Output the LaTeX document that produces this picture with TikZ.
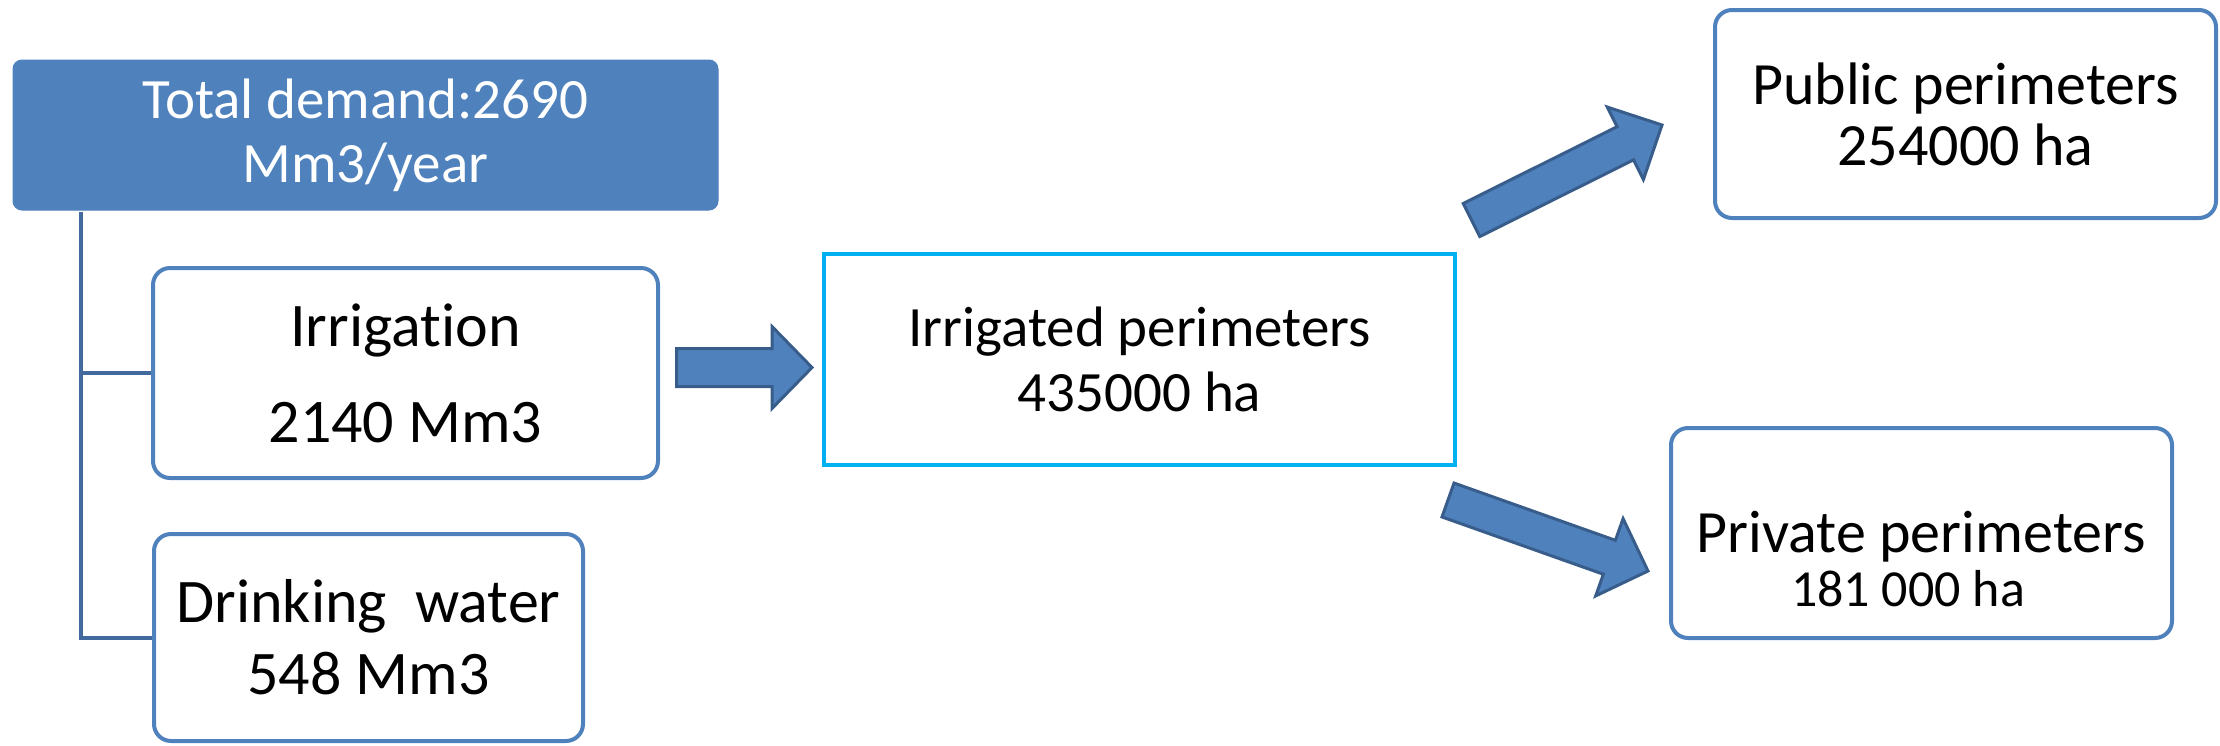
\documentclass[tikz,border=0pt]{standalone}
\usepackage{fontspec}
\setmainfont{Carlito}[Ligatures={NoCommon,NoContextual,NoRequired}]
\usetikzlibrary{calc}
\definecolor{accent}{HTML}{4F81BD}
\definecolor{arrowline}{HTML}{385D8A}
\definecolor{cyanline}{HTML}{00B0F0}
\definecolor{trunkline}{HTML}{41699D}
\tikzset{
  box/.style={draw=accent, line width=4pt, rounded corners=17pt, fill=white, align=center, inner sep=0pt},
  topbox/.style={draw=accent, fill=accent, line width=1pt, rounded corners=9pt, text=white, align=center, inner sep=0pt},
  cyanbox/.style={draw=cyanline, line width=4pt, fill=white, align=center, inner sep=0pt},
  blockarrow/.style={draw=arrowline, fill=accent, line width=3pt, line join=miter},
  trunk/.style={draw=trunkline, line width=4pt},
}
\newcommand\blockarr[5]{%
  \coordinate (hb) at ($(#2)!#5!(#1)$);
  \draw[blockarrow] ($(#1)!#3!90:(#2)$) -- ($(hb)!#3!90:(#2)$) -- ($(hb)!#4!90:(#2)$) -- (#2)
     -- ($(hb)!#4!-90:(#2)$) -- ($(hb)!#3!-90:(#2)$) -- ($(#1)!#3!-90:(#2)$) -- cycle;}
\begin{document}
\begin{tikzpicture}[x=1pt,y=-1pt]
\useasboundingbox (0,0) rectangle (2220,745);
% boxes
\node[topbox, minimum width=705pt, minimum height=150pt, font={\fontsize{57}{64}\selectfont}]
  (total) at (365.5,135) {Total demand:2690\\Mm3/year};
\node[box, minimum width=505pt, minimum height=210pt, font={\fontsize{62}{96}\selectfont}]
  (irr) at (405.5,373) {Irrigation\\2140 Mm3};
\node[box, minimum width=429pt, minimum height=207pt, font={\fontsize{62}{72}\selectfont}]
  (drink) at (368.5,637.5) {Drinking~~water\\548 Mm3};
\node[cyanbox, minimum width=631pt, minimum height=211pt, font={\fontsize{57}{65}\selectfont}]
  (irrigated) at (1139.5,359.5) {Irrigated perimeters\\435000 ha};
\node[box, minimum width=501pt, minimum height=208pt, font={\fontsize{60}{61}\selectfont}]
  (public) at (1965.5,114) {Public perimeters\\254000 ha};
\node[box, minimum width=501pt, minimum height=210pt] (private) at (1921.5,533) {};
\node[anchor=base, inner sep=0pt, font={\fontsize{60}{72}\selectfont}] (privtitle) at (1921,552) {Private perimeters};
\node[anchor=base, inner sep=0pt, font={\fontsize{52}{62}\selectfont}] (privarea) at (1908,606) {181 000 ha};
% trunk connectors
\coordinate (trunktop) at (81,212);
\draw[trunk] (trunktop) |- (irr.west);
\draw[trunk] (trunktop) |- (drink.west);
% block arrows
\coordinate (a1s) at (676.5,367.5);
\coordinate (a1e) at (812,367.5);
\blockarr{a1s}{a1e}{19pt}{41pt}{40pt}
\coordinate (a2s) at (1471.5,220);
\coordinate (a2e) at (1662,125);
\blockarr{a2s}{a2e}{18.5pt}{40.5pt}{41pt}
\coordinate (a3s) at (1448,500);
\coordinate (a3e) at (1648,571);
\blockarr{a3s}{a3e}{18pt}{41pt}{41pt}
\end{tikzpicture}
\end{document}
